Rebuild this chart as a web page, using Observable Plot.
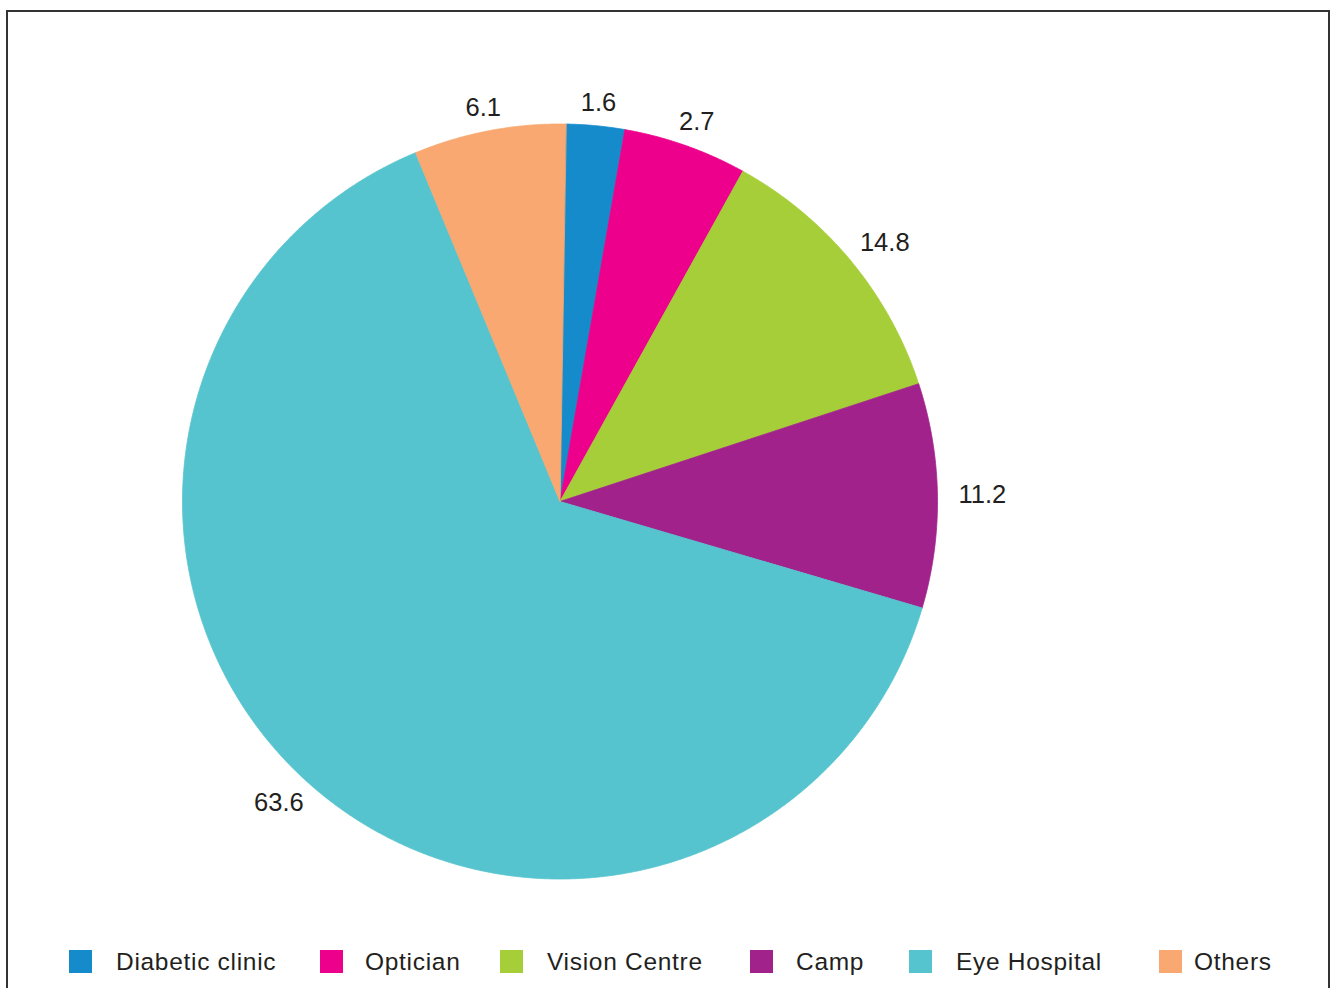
<!DOCTYPE html>
<html>
<head>
<meta charset="utf-8">
<script src="https://cdn.jsdelivr.net/npm/d3@7"></script>
<script src="https://cdn.jsdelivr.net/npm/@observablehq/plot@0.6"></script>
<style>
html, body { margin: 0; padding: 0; background: #fff; }
#page { position: relative; width: 1332px; height: 988px; overflow: hidden; font-family: "Liberation Sans", Arial, sans-serif; }
#frame { position: absolute; left: 6px; top: 10px; width: 1324px; height: 1000px; border: 2px solid #333; box-sizing: border-box; }
#chart { position: absolute; left: 0; top: 0; }
#legend { position: absolute; left: 0; top: 950px; width: 1332px; height: 23px; }
.sw { position: absolute; top: 0; width: 23px; height: 23px; }
.lt { position: absolute; top: 0; height: 23px; line-height: 23px; font-size: 24.5px; letter-spacing: 0.7px; color: #231f20; white-space: nowrap; }
</style>
</head>
<body>
<div id="page">
  <div id="frame"></div>
  <div id="chart"></div>
  <div id="legend"></div>
</div>
<script>
// ---- data ----
const categories = ["Diabetic clinic", "Optician", "Vision Centre", "Camp", "Eye Hospital", "Others"];
const valueLabels = ["1.6", "2.7", "14.8", "11.2", "63.6", "6.1"];
// share of the circle each slice occupies as drawn in the picture (percent)
const sliceShares = [2.5, 5.3, 11.9, 9.6, 64.2, 6.5];
const colors = ["#168bcb", "#ec008c", "#a6ce39", "#a1228b", "#56c4ce", "#f8a870"];
const startAngleDeg = 0.9;

// ---- layout ----
const R = 377.5;
const labelFontSize = 25.5;
const legendSwatchX = [69, 319.5, 500, 750, 909, 1159];
const legendTextX = [116, 365, 547, 796, 956, 1194];

const total = d3.sum(sliceShares);
let acc = startAngleDeg * Math.PI / 180;
const slices = categories.map((name, i) => {
  const a0 = acc;
  const a1 = acc + sliceShares[i] / total * 2 * Math.PI;
  acc = a1;
  return {name, a0, a1, label: valueLabels[i]};
});

const pts = [];
for (const s of slices) {
  pts.push({name: s.name, x: 0, y: 0});
  const n = Math.ceil((s.a1 - s.a0) / (Math.PI / 720));
  for (let k = 0; k <= n; k++) {
    const a = s.a0 + (s.a1 - s.a0) * k / n;
    pts.push({name: s.name, x: R * Math.sin(a), y: R * Math.cos(a)});
  }
}

const ctx = document.createElement("canvas").getContext("2d");
ctx.font = `${labelFontSize}px "Liberation Sans"`;
const labelPts = slices.map(s => {
  const m = (s.a0 + s.a1) / 2;
  const w = ctx.measureText(s.label).width;
  const h = labelFontSize * 0.72;
  const rr = R + 13 + 8 * Math.abs(Math.sin(m));
  return {
    label: s.label,
    x: rr * Math.sin(m) + Math.sin(m) * w / 2,
    y: rr * Math.cos(m) + Math.cos(m) * h / 2
  };
});

const chart = Plot.plot({
  width: 1332,
  height: 940,
  margin: 0,
  style: {fontFamily: "Liberation Sans, Arial, sans-serif", background: "transparent"},
  x: {domain: [-559.5, 772.5], axis: null},
  y: {domain: [-439, 501], axis: null},
  color: {domain: categories, range: colors},
  marks: [
    Plot.line(pts, {x: "x", y: "y", z: "name", fill: "name", stroke: "name", strokeWidth: 0.8, curve: "linear-closed"}),
    Plot.text(labelPts, {x: "x", y: "y", text: "label", fontSize: labelFontSize, fill: "#231f20", textAnchor: "middle", lineAnchor: "middle"})
  ]
});
document.getElementById("chart").appendChild(chart);

const legend = document.getElementById("legend");
categories.forEach((c, i) => {
  const sw = document.createElement("div");
  sw.className = "sw";
  sw.style.left = legendSwatchX[i] + "px";
  sw.style.background = colors[i];
  legend.appendChild(sw);
  const t = document.createElement("div");
  t.className = "lt";
  t.style.left = legendTextX[i] + "px";
  t.textContent = c;
  legend.appendChild(t);
});
</script>
</body>
</html>
